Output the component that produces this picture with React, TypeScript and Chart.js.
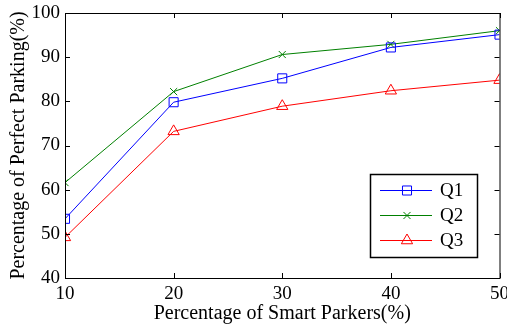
import React, { useEffect, useRef } from "react";
import { Chart, registerables } from "chart.js";
Chart.register(...registerables);

const xValues = [10, 20, 30, 40, 50];
const q1 = [53.4, 79.8, 85.2, 92.2, 95.1];
const q2 = [61.6, 82.2, 90.6, 92.9, 96.0];
const q3 = [49.2, 73.2, 78.9, 82.4, 84.8];
const seriesLabels = ["Q1", "Q2", "Q3"];
const xTicks = [10, 20, 30, 40, 50];
const yTicks = [40, 50, 60, 70, 80, 90, 100];

const FONT = "'Liberation Serif', 'Times New Roman', serif";

function drawPoint(ctx: CanvasRenderingContext2D, style: string, r: number, x: number, y: number, color: string) {
  ctx.save();
  ctx.strokeStyle = color;
  ctx.lineWidth = 1;
  ctx.beginPath();
  if (style === "rect") {
    const s = r * Math.SQRT1_2;
    ctx.rect(x - s, y - s, 2 * s, 2 * s);
  } else if (style === "triangle") {
    ctx.moveTo(x, y - r);
    ctx.lineTo(x + r * Math.sin(Math.PI / 3), y + r / 2);
    ctx.lineTo(x - r * Math.sin(Math.PI / 3), y + r / 2);
    ctx.closePath();
  } else if (style === "crossRot") {
    const o = r * Math.SQRT1_2;
    ctx.moveTo(x - o, y - o);
    ctx.lineTo(x + o, y + o);
    ctx.moveTo(x + o, y - o);
    ctx.lineTo(x - o, y + o);
  }
  ctx.stroke();
  ctx.restore();
}

const framePlugin = {
  id: "frame",
  afterDatasetsDraw(chart: any) {
    const { ctx, chartArea: a, scales } = chart;
    ctx.save();
    ctx.strokeStyle = "#000";
    ctx.lineWidth = 1;
    ctx.strokeRect(a.left + 0.5, a.top + 0.5, a.right - a.left, a.bottom - a.top);
    const tl = 5;
    ctx.beginPath();
    xTicks.forEach((v) => {
      const x = Math.round(scales.x.getPixelForValue(v)) + 0.5;
      ctx.moveTo(x, a.bottom);
      ctx.lineTo(x, a.bottom - tl);
      ctx.moveTo(x, a.top);
      ctx.lineTo(x, a.top + tl);
    });
    yTicks.forEach((v) => {
      const y = Math.round(scales.y.getPixelForValue(v)) + 0.5;
      ctx.moveTo(a.left, y);
      ctx.lineTo(a.left + tl, y);
      ctx.moveTo(a.right, y);
      ctx.lineTo(a.right - tl, y);
    });
    ctx.stroke();

    // legend
    const bx = 370, by = 174, bw = 107, bh = 83;
    ctx.fillStyle = "#fff";
    ctx.fillRect(bx, by, bw, bh);
    ctx.strokeStyle = "#000";
    ctx.lineWidth = 1.5;
    ctx.strokeRect(bx + 0.5, by + 0.5, bw, bh);
    chart.data.datasets.forEach((ds: any, i: number) => {
      const y = by + 16 + i * 25;
      ctx.strokeStyle = ds.borderColor;
      ctx.lineWidth = 1;
      ctx.beginPath();
      ctx.moveTo(380, y + 0.5);
      ctx.lineTo(432, y + 0.5);
      ctx.stroke();
      drawPoint(ctx, ds.pointStyle, ds.pointRadius, 407, y + 0.5, ds.borderColor);
      ctx.fillStyle = "#000";
      ctx.font = `19px ${FONT}`;
      ctx.textBaseline = "middle";
      ctx.textAlign = "left";
      ctx.fillText(ds.label, 440, y + 1);
    });
    ctx.restore();
  },
};

export default function App() {
  const ref = useRef<HTMLCanvasElement>(null);
  useEffect(() => {
    const mk = (label: string, data: number[], color: string, style: string, r: number) => ({
      label,
      data: xValues.map((x, i) => ({ x, y: data[i] })),
      borderColor: color,
      backgroundColor: "rgba(0,0,0,0)",
      pointBackgroundColor: "rgba(0,0,0,0)",
      pointBorderColor: color,
      pointBorderWidth: 1,
      borderWidth: 1,
      pointStyle: style,
      pointRadius: r,
      tension: 0,
    });
    const chart = new Chart(ref.current!, {
      type: "line",
      data: {
        datasets: [
          mk(seriesLabels[0], q1, "#0000ff", "rect", 6.4),
          mk(seriesLabels[1], q2, "#008000", "crossRot", 5),
          mk(seriesLabels[2], q3, "#ff0000", "triangle", 6.5),
        ],
      },
      options: {
        animation: false,
        responsive: false,
        devicePixelRatio: 1,
        layout: { padding: { top: 13, right: 7, left: 0, bottom: 0 } },
        plugins: { legend: { display: false }, tooltip: { enabled: false } },
        scales: {
          x: {
            type: "linear",
            min: 10,
            max: 50,
            afterBuildTicks: (s: any) => {
              s.ticks = xTicks.map((v) => ({ value: v }));
            },
            afterFit: (s: any) => {
              s.height = 48;
              s.paddingLeft = 0;
              s.paddingRight = 0;
            },
            grid: { display: false, drawTicks: false },
            border: { display: false },
            ticks: { color: "#000", font: { family: FONT, size: 19 }, padding: 5, maxRotation: 0 },
            title: {
              display: true,
              text: "Percentage of Smart Parkers(%)",
              color: "#000",
              font: { family: FONT, size: 20 },
              padding: { top: -6, bottom: 0 },
            },
          },
          y: {
            type: "linear",
            min: 40,
            max: 100,
            afterBuildTicks: (s: any) => {
              s.ticks = yTicks.map((v) => ({ value: v }));
            },
            afterFit: (s: any) => {
              s.width = 65;
              s.paddingTop = 0;
              s.paddingBottom = 0;
            },
            grid: { display: false, drawTicks: false },
            border: { display: false },
            ticks: { color: "#000", font: { family: FONT, size: 19 }, padding: 5 },
            title: {
              display: true,
              text: "Percentage of Perfect Parking(%)",
              color: "#000",
              font: { family: FONT, size: 20 },
              padding: { top: 7, bottom: 0 },
            },
          },
        },
      } as any,
      plugins: [framePlugin],
    });
    return () => chart.destroy();
  }, []);
  return (
    <div style={{ position: "fixed", left: 0, top: 0, width: 507, height: 326, background: "#fff" }}>
      <canvas ref={ref} width={507} height={326} style={{ width: 507, height: 326 }} />
    </div>
  );
}
